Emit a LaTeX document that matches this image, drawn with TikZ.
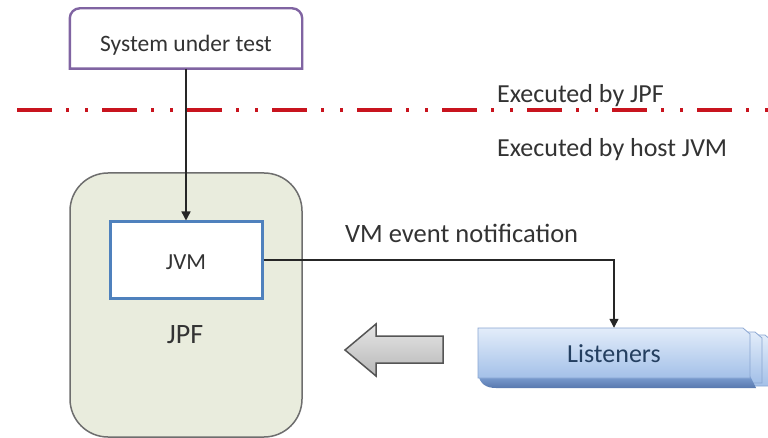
\documentclass[tikz,border=0pt]{standalone}
\usepackage{fontspec}
\setmainfont{Carlito}
\usetikzlibrary{arrows.meta,calc}

\definecolor{txt}{HTML}{333333}
\definecolor{sutline}{HTML}{8064A2}
\definecolor{cutred}{HTML}{C8141E}
\definecolor{jpffill}{HTML}{E9ECDD}
\definecolor{jpfline}{HTML}{6E6E6E}
\definecolor{jvmline}{HTML}{4F81BD}
\definecolor{lsttop}{HTML}{E3EDFA}
\definecolor{lstbot}{HTML}{A3C0E8}
\definecolor{lstline}{HTML}{8AA6D2}
\definecolor{lstdepthtop}{HTML}{84A6D8}
\definecolor{lstdepthbot}{HTML}{5878AE}
\definecolor{lsttext}{HTML}{243F60}
\definecolor{arrline}{HTML}{555555}

% face of one slab of the stacked "Listeners" shape, shifted by (#1,#2),
% its lower edge at #3
\newcommand\lstface[3]{%
  \shade[top color=lsttop, bottom color=lstbot, draw=lstline, line width=0.8pt]
    (478+#1,328+#2) -- (743+#1,328+#2) -- (750+#1,334+#2) -- (750+#1,#3) -- (478+#1,#3) -- cycle;
}

\begin{document}
\begin{tikzpicture}[x=1pt,y=-1pt,
    lbl/.style={text=txt, inner sep=0pt, anchor=base},
    conn/.style={draw=black!85, line width=1.4pt, -{Triangle[length=9pt,width=9pt]}},
    boxshape/.style={inner sep=0pt, minimum width=#1},
  ]
  \useasboundingbox (0,0) rectangle (768,438);
  \fill[white] (0,0) rectangle (768,438);

  % boundary between code run by JPF and by the host JVM
  \draw[cutred, line width=4pt, dash pattern=on 35pt off 14pt on 3pt off 16pt on 3pt off 14pt]
    (17,110) -- (768,110);

  % system under test
  \node[boxshape=232pt, minimum height=60pt] (sut) at (186,38.5) {};
  \filldraw[fill=white, draw=sutline, line width=2.4pt]
    (sut.south west) [rounded corners=10pt] -- (sut.north west) -- (sut.north east)
    [sharp corners] -- (sut.south east) -- cycle;
  \node[lbl, font=\fontsize{23.5}{28}\selectfont] (suttext) at (186,52) {System under test};

  % JPF with its JVM
  \node[boxshape=232pt, minimum height=264pt, draw=jpfline, fill=jpffill,
        line width=1.5pt, rounded corners=38pt] (jpf) at (186,305) {};
  \node[boxshape=152pt, minimum height=76pt, draw=jvmline, fill=white,
        line width=3pt] (jvm) at (186,260) {};
  \node[lbl, font=\fontsize{23}{27}\selectfont] (jvmtext) at (186,270) {JVM};
  \node[lbl, font=\fontsize{28}{33}\selectfont] (jpftext) at (185,343) {JPF};

  % stacked listeners
  \node[boxshape=272pt, minimum height=50pt] (lst) at (614,353) {};
  \lstface{22}{7}{386}
  \lstface{12}{4}{383}
  \shade[top color=lstdepthtop, bottom color=lstdepthbot]
    (478,374) .. controls (480,384) and (486,388) .. (496,388) -- (756,388) -- (750,376) -- cycle;
  \lstface{0}{0}{378}
  \node[lbl, text=lsttext, font=\fontsize{26}{31}\selectfont] (lsttext) at (614,362) {Listeners};

  % block arrow pointing back to JPF
  \shade[top color=black!10, bottom color=black!28, draw=arrline, line width=1.5pt, line join=miter]
    (345,350) -- (376,324) -- (376,336) -- (443,336) -- (443,363) -- (376,363) -- (376,376) -- cycle;

  % connectors
  \draw[conn] (sut.south) -- (jvm.north);
  \draw[conn] (jvm.east) -| (lst.north);

  % texts
  \node[lbl, anchor=base west, font=\fontsize{26}{31}\selectfont] (byjpf) at (497,103) {Executed by JPF};
  \node[lbl, anchor=base west, font=\fontsize{26}{31}\selectfont] (byhost) at (497,157) {Executed by host JVM};
  \node[lbl, anchor=base west, font=\fontsize{26.5}{31}\selectfont] (vmevent) at (345,243) {VM event notification};
\end{tikzpicture}
\end{document}
